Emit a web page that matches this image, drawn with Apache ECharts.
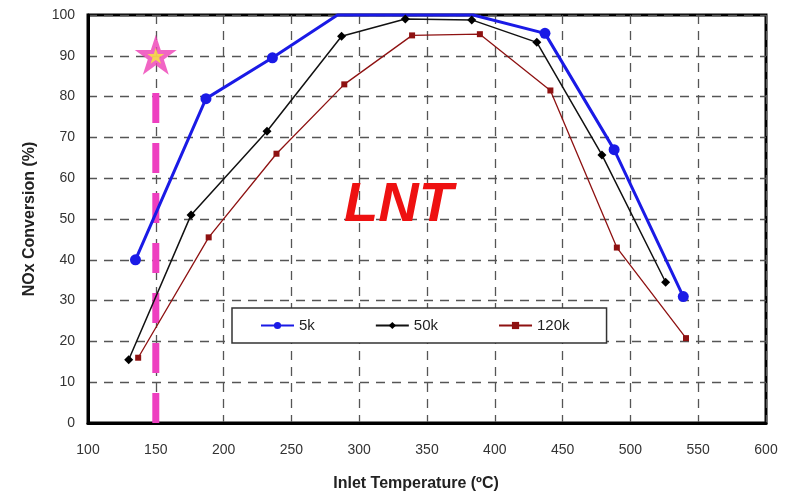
<!DOCTYPE html>
<html>
<head>
<meta charset="utf-8">
<style>
  html, body { margin: 0; padding: 0; background: #fff; }
  #chart { width: 787px; height: 499px; }
</style>
<script src="https://cdn.jsdelivr.net/npm/echarts@6/dist/echarts.min.js"></script>
</head>
<body>
<div id="chart"></div>
<script>
// Space velocity runs: inlet temperature (°C) vs NOx conversion (%)
const seriesNames = ['5k', '50k', '120k'];
const temps5k = [135, 187, 236, 284, 334, 384, 437, 488, 539];
const conv5k = [40, 79.5, 89.5, 100, 100, 100, 95.5, 67, 31];
const temps50k = [130, 176, 232, 287, 334, 383, 431, 479, 526];
const conv50k = [15.5, 51, 71.5, 94.8, 99, 98.8, 93.3, 65.7, 34.5];
const temps120k = [137, 189, 239, 289, 339, 389, 441, 490, 541];
const conv120k = [16, 45.5, 66, 83, 95, 95.3, 81.5, 43, 20.8];

// Marker temperature (vertical dashed guide + star)
const markerTemp = 150;
const guideTop = 82;
const starConv = 90;
const annotation = 'LNT';

const xTicks = { min: 100, max: 600, step: 50 };
const yTicks = { min: 0, max: 100, step: 10 };

const pairs = (xs, ys) => xs.map((x, i) => [x, ys[i]]);
// points sitting on the 100 % frame line are drawn without a marker
const pairsHideTop = (xs, ys) => xs.map((x, i) =>
  ys[i] >= 100 ? { value: [x, ys[i]], symbol: 'none' } : [x, ys[i]]);

const font = '"Liberation Sans Narrow", "Liberation Sans", Arial, sans-serif';
const starPath = 'path://M50,0 L61.2,34.5 L97.6,34.5 L68.2,55.9 L79.4,90.5 L50,69.1 L20.6,90.5 L31.8,55.9 L2.4,34.5 L38.8,34.5 Z';

const chart = echarts.init(document.getElementById('chart'), null, { renderer: 'canvas' });

const gridDash = { color: '#555', width: 1.3, type: [9, 7] };

chart.setOption({
  animation: false,
  backgroundColor: '#fff',
  grid: {
    left: 88, right: 21, top: 15, bottom: 76,
    show: true, borderColor: '#000', borderWidth: 3, backgroundColor: 'transparent'
  },
  legend: {
    data: seriesNames,
    left: 232, top: 308,
    padding: [10, 37, 10, 28],
    itemGap: 60,
    itemWidth: 33,
    itemHeight: 9,
    backgroundColor: '#fff',
    borderColor: '#333',
    borderWidth: 1.5,
    textStyle: { fontFamily: 'Liberation Sans, Arial, sans-serif', fontSize: 15, color: '#222' }
  },
  xAxis: {
    type: 'value',
    min: xTicks.min, max: xTicks.max, interval: xTicks.step,
    name: 'Inlet Temperature (ºC)',
    nameLocation: 'middle',
    nameGap: 53,
    nameTextStyle: { fontFamily: font, fontSize: 16, fontWeight: 'bold', color: '#222', padding: [0, 22, 0, 0] },
    axisLine: { lineStyle: { color: '#000', width: 3 } },
    axisTick: { show: false },
    axisLabel: { margin: 20, fontFamily: font, fontSize: 14, color: '#333' },
    splitLine: { show: true, lineStyle: gridDash }
  },
  yAxis: {
    type: 'value',
    min: yTicks.min, max: yTicks.max, interval: yTicks.step,
    name: 'NOx Conversion (%)',
    nameLocation: 'middle',
    nameGap: 50,
    nameTextStyle: { fontFamily: font, fontSize: 16, fontWeight: 'bold', color: '#222' },
    axisLine: { lineStyle: { color: '#000', width: 3 } },
    axisTick: { show: false },
    axisLabel: { margin: 13, fontFamily: font, fontSize: 14, color: '#333' },
    splitLine: { show: true, lineStyle: gridDash }
  },
  graphic: [{
    type: 'text',
    left: 344, top: 178,
    style: {
      text: annotation,
      fill: '#ee1111',
      font: 'italic bold 56px "Liberation Sans", Arial, sans-serif'
    },
    z: 5
  }],
  series: [
    {
      name: 'guide',
      type: 'line',
      data: [[markerTemp, 0], [markerTemp, guideTop]],
      showSymbol: false,
      lineStyle: { color: '#ee3fc0', width: 7, type: [30, 20] },
      z: 3, silent: true
    },
    {
      name: seriesNames[0],
      type: 'line',
      data: pairsHideTop(temps5k, conv5k),
      clip: false,
      symbol: 'circle', symbolSize: 11,
      itemStyle: { color: '#1a1ae6' },
      lineStyle: { color: '#1a1ae6', width: 3 },
      z: 4
    },
    {
      name: seriesNames[1],
      type: 'line',
      data: pairs(temps50k, conv50k),
      clip: false,
      symbol: 'diamond', symbolSize: 9,
      itemStyle: { color: '#000' },
      lineStyle: { color: '#111', width: 1.5 },
      z: 4
    },
    {
      name: seriesNames[2],
      type: 'line',
      data: pairs(temps120k, conv120k),
      clip: false,
      symbol: 'rect', symbolSize: 6,
      itemStyle: { color: '#8e1111' },
      lineStyle: { color: '#8e1111', width: 1.3 },
      z: 4
    },
    {
      name: 'star',
      type: 'scatter',
      data: [[markerTemp, starConv]],
      symbol: starPath,
      symbolSize: [42, 40],
      symbolOffset: [0, -1],
      itemStyle: { color: '#ee3fb5' },
      z: 6, silent: true
    },
    {
      name: 'starCore',
      type: 'scatter',
      data: [[markerTemp, starConv]],
      symbol: starPath,
      symbolSize: [17, 16],
      symbolOffset: [0, 0],
      itemStyle: { color: '#f6ef3a' },
      z: 7, silent: true
    }
  ]
});
</script>
</body>
</html>
